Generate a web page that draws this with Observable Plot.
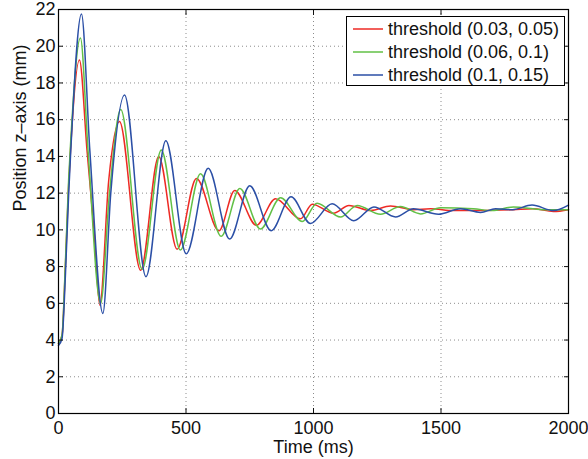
<!DOCTYPE html>
<html>
<head>
<meta charset="utf-8">
<script src="https://cdn.jsdelivr.net/npm/d3@7"></script>
<script src="https://cdn.jsdelivr.net/npm/@observablehq/plot@0.6"></script>
<style>
  html, body { margin: 0; padding: 0; background: #fff; }
  #wrap { position: relative; width: 588px; height: 459px; font-family: "Liberation Sans", Arial, Helvetica, sans-serif; }
  #legend { position: absolute; left: 346px; top: 16px; width: 219px; height: 70px; border: 1px solid #000; background: #fff; box-sizing: border-box; font-size: 18px; color: #111; }
  #legend .row { position: absolute; left: 0; height: 22px; display: flex; align-items: center; white-space: nowrap; }
  #legend svg { margin-left: 6px; margin-right: 5px; }
</style>
</head>
<body>
<div id="wrap"><div id="legend"></div></div>
<script>
// Series names and colours
const seriesNames = ["threshold (0.03, 0.05)", "threshold (0.06, 0.1)", "threshold (0.1, 0.15)"];
const seriesColors = ["#ee2a24", "#62c046", "#2b4fa6"];

// threshold (0.03, 0.05)
const tRed = [0, 14, 27, 40, 47, 82, 112, 139, 162, 197, 239, 322, 393, 465, 541, 629, 691, 776, 851, 949, 995, 1078, 1139, 1224, 1302, 1392, 1459, 1550, 1655, 1784, 1860, 1941, 2000];
const zRed = [3.8, 4.25, 8.0, 12.5, 14.3, 19.25, 14.3, 10.0, 5.9, 12.7, 15.9, 7.8, 14.0, 8.95, 12.8, 9.95, 12.15, 10.25, 11.7, 10.6, 11.4, 10.9, 11.33, 11.05, 11.3, 11.1, 11.15, 11.05, 11.05, 11.1, 11.15, 11.0, 11.1];

// threshold (0.06, 0.1)
const tGreen = [0, 14, 27, 40, 47, 86, 116, 165, 200, 244, 328, 403, 478, 557, 638, 711, 792, 871, 956, 1014, 1106, 1171, 1263, 1341, 1420, 1498, 1627, 1700, 1784, 1900, 2000];
const zGreen = [3.8, 4.3, 8.2, 12.8, 14.6, 20.45, 14.3, 6.0, 12.0, 16.55, 7.85, 14.35, 8.9, 13.05, 9.65, 12.25, 10.05, 11.75, 10.45, 11.45, 10.7, 11.33, 10.85, 11.27, 10.87, 11.2, 11.15, 11.05, 11.25, 11.1, 11.1];

// threshold (0.1, 0.15)
const tBlue = [0, 14, 27, 40, 47, 90, 123, 174, 205, 259, 343, 421, 501, 587, 671, 750, 834, 912, 988, 1073, 1158, 1237, 1322, 1392, 1490, 1576, 1655, 1714, 1780, 1857, 1941, 2000];
const zBlue = [3.7, 4.1, 7.5, 12.0, 14.0, 21.75, 14.3, 5.45, 12.0, 17.35, 7.45, 14.85, 8.7, 13.35, 9.5, 12.4, 9.95, 11.8, 10.35, 11.42, 10.5, 11.25, 10.7, 11.15, 10.85, 11.15, 10.95, 11.15, 11.1, 11.35, 11.05, 11.35];

// Axis ticks and labels
const xTicks = [0, 500, 1000, 1500, 2000];
const yTicks = [0, 2, 4, 6, 8, 10, 12, 14, 16, 18, 20, 22];
const xLabel = "Time (ms)";
const yLabel = "Position z–axis (mm)";

const rows = [];
[[tRed, zRed], [tGreen, zGreen], [tBlue, zBlue]].forEach(([ts, zs], i) => {
  ts.forEach((t, j) => rows.push({series: seriesNames[i], t, z: zs[j]}));
});

const font = "18px";
const plain = d => String(d);
const blank = () => "";
const chart = Plot.plot({
  width: 588,
  height: 459,
  marginTop: 9,
  marginRight: 20,
  marginBottom: 46,
  marginLeft: 58,
  style: {fontFamily: '"Liberation Sans", Arial, Helvetica, sans-serif', fontSize: font, color: "#111", background: "#fff", overflow: "visible"},
  x: {domain: [0, 2000], ticks: xTicks},
  y: {domain: [0, 22], ticks: yTicks},
  color: {domain: seriesNames, range: seriesColors},
  marks: [
    Plot.gridX(xTicks, {stroke: "#000", strokeOpacity: 0.45, strokeDasharray: "1,3"}),
    Plot.gridY(yTicks, {stroke: "#000", strokeOpacity: 0.45, strokeDasharray: "1,3"}),
    Plot.line(rows, {x: "t", y: "z", z: "series", stroke: "series", strokeWidth: 1.5, curve: "monotone-x"}),
    Plot.axisX(xTicks, {anchor: "bottom", tickSize: -5, tickPadding: 13, tickFormat: plain, label: null, fontSize: font}),
    Plot.axisX(xTicks, {anchor: "top", tickSize: -5, tickFormat: blank, label: null}),
    Plot.axisY(yTicks, {anchor: "left", tickSize: -5, tickPadding: 8, tickFormat: plain, label: null, fontSize: font}),
    Plot.axisY(yTicks, {anchor: "right", tickSize: -5, tickFormat: blank, label: null}),
    Plot.frame({stroke: "#000", strokeWidth: 1.2}),
    Plot.text([xLabel], {frameAnchor: "bottom", dy: 34, lineAnchor: "middle", fontSize: font, fill: "#111"}),
    Plot.text([yLabel], {frameAnchor: "left", rotate: -90, dx: -38, lineAnchor: "middle", fontSize: font, fill: "#111"})
  ]
});
document.getElementById("wrap").prepend(chart);

// Legend
const legend = document.getElementById("legend");
seriesNames.forEach((name, i) => {
  const row = document.createElement("div");
  row.className = "row";
  row.style.top = (1 + i * 23) + "px";
  row.innerHTML = `<svg width="30" height="4"><line x1="0" y1="2" x2="30" y2="2" stroke="${seriesColors[i]}" stroke-width="1.5"/></svg><span>${name}</span>`;
  legend.appendChild(row);
});
</script>
</body>
</html>
